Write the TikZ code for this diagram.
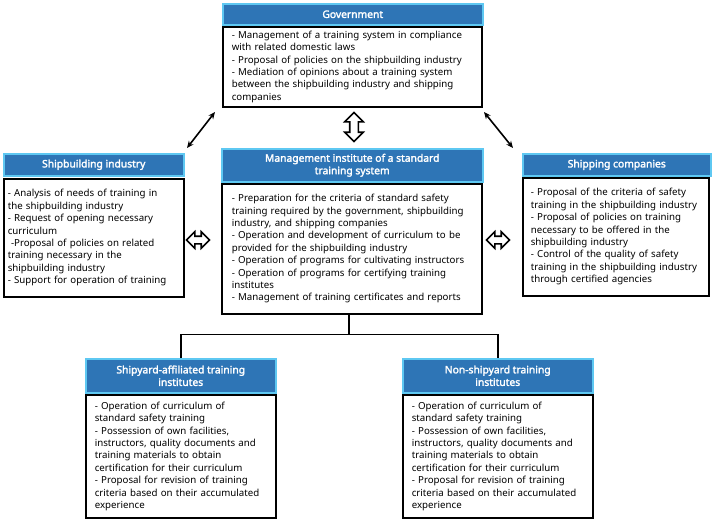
\documentclass[tikz,border=0pt]{standalone}
\usepackage{fontspec}
\setmainfont{Noto Sans}
\newfontfamily\hdrfont{Noto Sans}[FakeBold=2.2]
\usetikzlibrary{shapes.arrows,arrows.meta,calc}
\definecolor{hdrblue}{HTML}{2E75B6}
\definecolor{hdrline}{HTML}{5EC8F2}
\hyphenpenalty=10000
\exhyphenpenalty=10000
\begin{document}
\begin{tikzpicture}[x=1pt,y=-1pt,
  hdr/.style={draw=hdrline, line width=1.5pt, fill=hdrblue, text=white,
    font=\hdrfont\fontsize{10.3}{12.5}\selectfont, anchor=north west, inner sep=0pt, align=center},
  body/.style={draw=black, line width=1.6pt, fill=white, anchor=north west, inner sep=0pt,
    align=left, font=\fontsize{9.7}{12.4}\selectfont},
  link/.style={draw=black, line width=1.5pt},
  diag/.style={draw=black, line width=1.6pt, {Stealth[length=7pt,width=6pt]}-{Stealth[length=7pt,width=6pt]}},
  hollow/.style={double arrow, draw=black, line width=1.6pt, fill=white, inner sep=3pt,
    double arrow head extend=4.5pt, minimum height=23pt, anchor=center}
]
\fill[white] (0,0) rectangle (713,525);
\useasboundingbox (0,0) rectangle (713,525);

% Government
\node[hdr, minimum width=260pt, minimum height=21pt] (gh) at (222,3) {Government};
\node[body, minimum width=259pt, minimum height=80pt, text width=241pt] (gb) at (222,26) {%
- Management of a training system in compliance\\
with related domestic laws\\
- Proposal of policies on the shipbuilding industry\\
- Mediation of opinions about a training system\\
between the shipbuilding industry and shipping\\
companies};

% Shipbuilding industry
\node[hdr, minimum width=180pt, minimum height=22pt] (sh) at (3,153) {Shipbuilding industry};
\node[body, minimum width=180pt, minimum height=118pt, text width=172pt] (sb) at (3,178) {%
- Analysis of needs of training in\\
the shipbuilding industry\\
- Request of opening necessary\\
curriculum\\
\ -Proposal of policies on related\\
training necessary in the\\
shipbuilding industry\\
- Support for operation of training};

% Management institute
\node[hdr, minimum width=261pt, minimum height=33pt] (mh) at (221,148) {Management institute of a standard\\training system};
\node[body, minimum width=260pt, minimum height=130pt, text width=240pt] (mb) at (221,183) {%
- Preparation for the criteria of standard safety\\
training required by the government, shipbuilding\\
industry, and shipping companies\\
- Operation and development of curriculum to be\\
provided for the shipbuilding industry\\
- Operation of programs for cultivating instructors\\
- Operation of programs for certifying training\\
institutes\\
- Management of training certificates and reports};

% Shipping companies
\node[hdr, minimum width=188pt, minimum height=22pt] (ph) at (522,153) {Shipping companies};
\node[body, minimum width=186pt, minimum height=118pt, text width=170pt] (pb) at (522,177) {%
- Proposal of the criteria of safety\\
training in the shipbuilding industry\\
- Proposal of policies on training\\
necessary to be offered in the\\
shipbuilding industry\\
- Control of the quality of safety\\
training in the shipbuilding industry\\
through certified agencies};

% Shipyard-affiliated
\node[hdr, minimum width=190pt, minimum height=34pt] (yh) at (85,358) {Shipyard-affiliated training\\institutes};
\node[body, minimum width=190pt, minimum height=123pt, text width=172pt] (yb) at (85,394) {%
- Operation of curriculum of\\
standard safety training\\
- Possession of own facilities,\\
instructors, quality documents and\\
training materials to obtain\\
certification for their curriculum\\
- Proposal for revision of training\\
criteria based on their accumulated\\
experience};

% Non-shipyard
\node[hdr, minimum width=190pt, minimum height=34pt] (nh) at (402,358) {Non-shipyard training\\institutes};
\node[body, minimum width=190pt, minimum height=123pt, text width=172pt] (nb) at (402,394) {%
- Operation of curriculum of\\
standard safety training\\
- Possession of own facilities,\\
instructors, quality documents and\\
training materials to obtain\\
certification for their curriculum\\
- Proposal for revision of training\\
criteria based on their accumulated\\
experience};

% tree connector
\coordinate (j) at ($(mb.south)+(-3,20)$);
\coordinate (js) at ($(mb.south)+(-3,0)$);
\draw[link] (js) -- (j);
\draw[link] (yh.north) |- (j) -| (nh.north);

% diagonal arrows
\coordinate (d1a) at (215,112);
\coordinate (d1b) at (187,148);
\coordinate (d2a) at (484,112);
\coordinate (d2b) at (513,148);
\draw[diag] (d1a) -- (d1b);
\draw[diag] (d2a) -- (d2b);

% hollow double arrows
\node[hollow, minimum height=29pt, inner sep=3.5pt, double arrow head extend=5pt, shape border rotate=90] (va) at (354,127) {};
\node[hollow] (la) at (198,240) {};
\node[hollow] (ra) at (498,240) {};
\end{tikzpicture}
\end{document}
